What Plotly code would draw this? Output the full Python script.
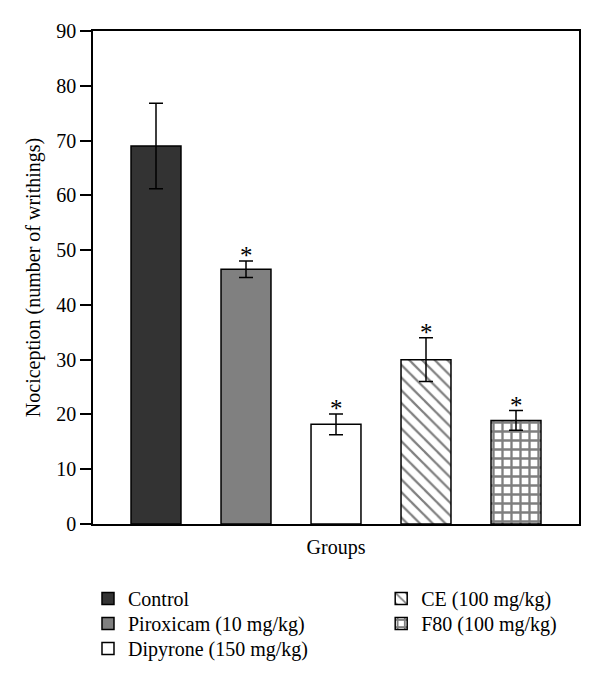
import plotly.graph_objects as go

groups = ["Control", "Piroxicam (10 mg/kg)", "Dipyrone (150 mg/kg)", "CE (100 mg/kg)", "F80 (100 mg/kg)"]
means = [69.0, 46.5, 18.2, 30.0, 18.9]
errors = [7.8, 1.5, 1.9, 4.0, 1.8]
significant = [False, True, True, True, True]
y_ticks = [0, 10, 20, 30, 40, 50, 60, 70, 80, 90]

FONT = "Liberation Serif"
FS = 20
styles = [
    dict(color="#333333", pattern=dict(shape="")),
    dict(color="#808080", pattern=dict(shape="")),
    dict(color="#ffffff", pattern=dict(shape="")),
    dict(color="#ffffff", pattern=dict(shape="\\", fgcolor="black", bgcolor="white", size=9, solidity=0.25)),
    dict(color="#ffffff", pattern=dict(shape="+", fgcolor="black", bgcolor="white", size=9, solidity=0.45)),
]
legend_ids = ["legend", "legend2", "legend3", "legend4", "legend5"]
legend_pos = [(-0.0103, -0.1116), (-0.0103, -0.1623), (-0.0103, -0.2130),
              (0.593, -0.1116), (0.593, -0.1623)]

fig = go.Figure()
for i, g in enumerate(groups):
    fig.add_trace(go.Bar(
        x=[i], y=[means[i]], name=g, width=0.555,
        marker=dict(color=styles[i]["color"], pattern=styles[i]["pattern"],
                    line=dict(color="black", width=1.5)),
        error_y=dict(type="data", array=[errors[i]], color="black", thickness=1.5, width=7),
        legend=legend_ids[i],
    ))

for i in range(len(groups)):
    if significant[i]:
        fig.add_annotation(x=i, y=means[i] + errors[i], text="*", showarrow=False,
                           yanchor="bottom", yshift=-10, font=dict(family=FONT, size=25, color="black"))

legend_layouts = {}
for lid, (lx, ly) in zip(legend_ids, legend_pos):
    legend_layouts[lid] = dict(x=lx, y=ly, xanchor="left", yanchor="top", orientation="v",
                               font=dict(family=FONT, size=FS, color="black"),
                               bgcolor="rgba(0,0,0,0)")

# page body has an 8px margin, so margins are offset by 8px to place the plot area
fig.update_layout(
    width=600, height=680,
    margin=dict(l=85, r=29, t=23, b=164, autoexpand=False),
    paper_bgcolor="white", plot_bgcolor="white",
    barmode="overlay",
    font=dict(family=FONT, size=FS, color="black"),
    showlegend=True,
    xaxis=dict(range=[-0.7, 4.7], showticklabels=False, ticks="", showgrid=False, zeroline=False,
               showline=True, linecolor="black", linewidth=1.5, mirror=True,
               title=dict(text="Groups", font=dict(family=FONT, size=FS), standoff=15)),
    yaxis=dict(range=[0, 90], tickvals=y_ticks, ticks="outside", ticklen=11, tickwidth=1.5,
               tickcolor="black", showgrid=False, zeroline=False,
               showline=True, linecolor="black", linewidth=1.5, mirror=True,
               tickfont=dict(family=FONT, size=FS),
               title=dict(text="Nociception (number of writhings)", font=dict(family=FONT, size=FS), standoff=10)),
    **legend_layouts,
)

fig.write_html("out.html")
